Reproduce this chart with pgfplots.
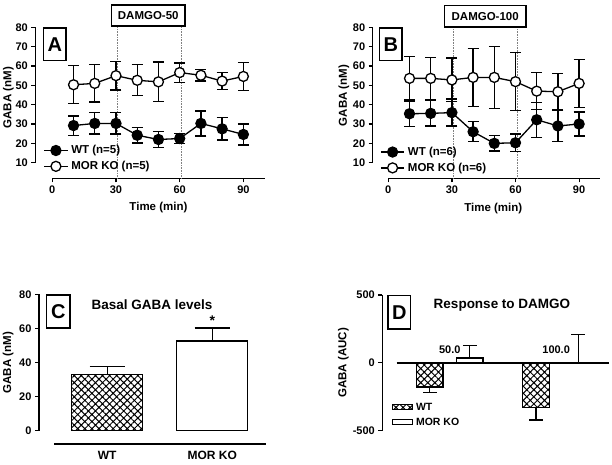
\documentclass[border=0pt]{standalone}
\usepackage{fontspec}
\setmainfont{Liberation Sans}
\usepackage{pgfplots}
\pgfplotsset{compat=1.18}
\usepackage{pgfplotstable}
\usetikzlibrary{patterns.meta}

\pgfplotstableread{
t y e
10 29.2 5.0
20 30.3 5.5
30 30.3 5.5
40 24.2 4.0
50 22.0 4.3
60 22.5 2.6
70 30.3 6.5
80 27.5 5.8
90 24.6 5.4
}\tabAwt
\pgfplotstableread{
t y e
10 50.3 9.8
20 51.0 9.6
30 55.0 7.4
40 52.6 8.0
50 51.8 10.2
60 56.6 5.0
70 55.2 3.0
80 52.2 4.5
90 54.6 7.3
}\tabAko
\pgfplotstableread{
t y e
10 35.3 6.5
20 35.5 6.5
30 35.9 7.0
40 26.0 5.2
50 20.0 3.9
60 20.3 4.5
70 32.2 9.0
80 29.0 8.0
90 30.0 6.2
}\tabBwt
\pgfplotstableread{
t y e
10 53.6 11.2
20 53.6 10.8
30 52.8 11.3
40 54.1 15.0
50 54.1 16.0
60 51.9 15.0
70 47.0 9.5
80 46.7 9.5
90 51.0 12.3
}\tabBko
\pgfplotstableread{
x y e
0 33.0 4.5
}\tabCwt
\pgfplotstableread{
x y e
1 52.7 7.5
}\tabCko
\pgfplotstableread{
x y e
-0.186 -178 40
0.802 -328 93
}\tabDwt
\pgfplotstableread{
x y e
0.186 35 92
1.196 4 207
}\tabDko

\newcommand\fsz[1]{\fontsize{#1}{#1}\selectfont\bfseries}

\tikzset{
  boxlab/.style={draw, line width=1.4pt, anchor=north west, minimum width=22.4pt,
    minimum height=32.7pt, inner sep=0pt, font=\fsz{20}},
  hatchbar/.style={pattern={Hatch[angle=45,distance=5pt,line width=1pt]}},
}

\pgfplotsset{
  prism/.style={
    scale only axis,
    enlargelimits=false,
    clip=false,
    axis line style={-, line width=1.4pt},
    x axis line style={-},
    y axis line style={-},
    tick style={line width=1.2pt, black},
    major tick length=4pt,
    tick align=outside,
    /pgf/number format/assume math mode=true,
    ticklabel style={font=\fsz{11}},
    label style={font=\fsz{11.5}},
  },
  ts/.style={black, line width=1.3pt, mark=*, mark size=5pt,
    mark options={solid, line width=1.3pt, fill=#1},
    /pgfplots/error bars/y dir=both, /pgfplots/error bars/y explicit,
    /pgfplots/error bars/error bar style={line width=1.3pt},
    /pgfplots/error bars/error mark options={rotate=90, line width=1.3pt, mark size=5.5pt}},
  ts/.default=black,
  tslegend/.style={
    legend style={at={#1}, anchor=north west, draw=none, fill=none,
      inner sep=0pt, row sep=0pt, font=\fsz{11.5}, nodes={inner sep=3pt}},
    legend cell align=left,
    legend image code/.code={\draw[mark repeat=2,mark phase=2,##1] plot coordinates {(0pt,0pt) (11.7pt,0pt) (23.4pt,0pt)};},
  },
  dlegend/.style={
    legend image code/.code={\draw[##1, line width=1.2pt] (0pt,-2.5pt) rectangle (20pt,2.5pt);},
  },
  barerr/.style={
    /pgfplots/error bars/y dir=#1, /pgfplots/error bars/y explicit,
    /pgfplots/error bars/error bar style={line width=1.3pt},
  },
}

\begin{document}
\begin{tikzpicture}
\fill[white] (0,0) rectangle (612pt,464pt);
\path[use as bounding box] (0,0) rectangle (612pt,464pt);

% ---------------- Panel A ----------------
\begin{axis}[prism,
  at={(52.3pt,301.3pt)}, anchor=south west,
  width=212.3pt, height=135.4pt,
  xmin=0, xmax=100, ymin=10, ymax=80,
  axis x line*=bottom, axis y line*=left,
  axis x line shift=15.6pt, axis y line shift=17pt,
  xtick={0,30,60,90}, ytick={10,20,30,40,50,60,70,80},
  xlabel={Time (min)}, ylabel={GABA (nM)},
  xlabel style={at={(axis description cs:0.5,-0.332)}, anchor=center},
  ylabel style={at={(axis description cs:-0.207,0.48)}, anchor=center},
  tslegend={(axis cs:-4.2,20.5)},
]
\draw[densely dotted, gray, line width=0.6pt] (axis cs:30.6,1.93) -- (axis cs:30.6,80.7);
\draw[densely dotted, gray, line width=0.6pt] (axis cs:60.6,1.93) -- (axis cs:60.6,80.7);
\addplot[ts] table[x=t, y=y, y error=e] {\tabAwt};
\addlegendentry{WT (n=5)}
\addplot[ts=white] table[x=t, y=y, y error=e] {\tabAko};
\addlegendentry{MOR KO (n=5)}
\node[boxlab] at (axis cs:-4.4,80) {A};
\node[draw, line width=1.4pt, fill=white, minimum width=73.3pt, minimum height=21pt, inner sep=0pt, font=\fsz{11.5}] at (axis cs:45.2,86.1) {DAMGO-50};
\end{axis}

% ---------------- Panel B ----------------
\begin{axis}[prism,
  at={(388.3pt,301.3pt)}, anchor=south west,
  width=212pt, height=135.4pt,
  xmin=0, xmax=100, ymin=10, ymax=80,
  axis x line*=bottom, axis y line*=left,
  axis x line shift=15.6pt, axis y line shift=15.6pt,
  xtick={0,30,60,90}, ytick={10,20,30,40,50,60,70,80},
  xlabel={Time (min)}, ylabel={GABA (nM)},
  xlabel style={at={(axis description cs:0.495,-0.337)}, anchor=center},
  ylabel style={at={(axis description cs:-0.209,0.496)}, anchor=center},
  tslegend={(axis cs:-3.9,19.7)},
]
\draw[densely dotted, gray, line width=0.6pt] (axis cs:30.7,1.93) -- (axis cs:30.7,80.7);
\draw[densely dotted, gray, line width=0.6pt] (axis cs:61.0,1.93) -- (axis cs:61.0,80.7);
\addplot[ts] table[x=t, y=y, y error=e] {\tabBwt};
\addlegendentry{WT (n=6)}
\addplot[ts=white] table[x=t, y=y, y error=e] {\tabBko};
\addlegendentry{MOR KO (n=6)}
\node[boxlab] at (axis cs:-4.4,80) {B};
\node[draw, line width=1.4pt, fill=white, minimum width=81.7pt, minimum height=21.7pt, inner sep=0pt, font=\fsz{11.5}] at (axis cs:45.7,85.8) {DAMGO-100};
\end{axis}

% ---------------- Panel C ----------------
\begin{axis}[prism,
  at={(54pt,33.3pt)}, anchor=south west,
  width=212pt, height=136.4pt,
  xmin=-0.507, xmax=1.512, ymin=0, ymax=80,
  axis x line*=bottom, axis y line*=left,
  x axis line style={draw=none},
  axis x line shift=13.3pt, axis y line shift=15pt,
  xtick={0,1}, xticklabels={WT,MOR KO}, major x tick style={draw=none},
  xticklabel style={font=\fsz{12}},
  ytick={0,20,40,60,80},
  ylabel={GABA (nM)},
  ylabel style={at={(axis description cs:-0.216,0.498)}, anchor=center},
]
\draw[line width=1.4pt] (axis cs:-0.507,-7.8) -- (axis cs:1.512,-7.8);
\addplot[ybar, bar shift=0pt, bar width=71pt, draw=black, line width=1.3pt, hatchbar,
  barerr=plus, error bars/error mark options={rotate=90, line width=1.3pt, mark size=17.5pt}]
  table[x=x, y=y, y error=e] {\tabCwt};
\addplot[ybar, bar shift=0pt, bar width=71pt, draw=black, fill=white, line width=1.3pt,
  barerr=plus, error bars/error mark options={rotate=90, line width=1.3pt, mark size=17.5pt}]
  table[x=x, y=y, y error=e] {\tabCko};
\node[boxlab, minimum width=23.3pt, minimum height=33pt] at (axis cs:-0.583,80) {C};
\node[font=\fsz{13.5}] at (axis cs:0.427,73.7) {Basal GABA levels};
\node[font=\fsz{14}, anchor=base] at (axis cs:1,61.5) {*};
\end{axis}

% ---------------- Panel D ----------------
\begin{axis}[prism,
  at={(396.7pt,33.3pt)}, anchor=south west,
  width=212.3pt, height=135.7pt,
  xmin=-0.494, xmax=1.482, ymin=-500, ymax=500,
  axis x line=none, axis y line*=left,
  axis y line shift=14.4pt,
  xtick=\empty,
  ytick={-500,0,500}, yticklabels={-500,0,500},
  ylabel={GABA (AUC)},
  ylabel style={at={(axis description cs:-0.251,0.5)}, anchor=center},
  legend style={at={(axis cs:-0.541,-272)}, anchor=north west, draw=none, fill=none,
      inner sep=0pt, row sep=0pt, font=\fsz{10.5}, nodes={inner sep=3pt}},
  legend cell align=left,
]
\draw[line width=1.4pt] (axis cs:-0.494,0) -- (axis cs:1.482,0);
\addplot[ybar, bar shift=0pt, bar width=26.7pt, draw=black, line width=1.3pt, hatchbar, dlegend,
  barerr=minus, error bars/error mark options={rotate=90, line width=1.3pt, mark size=7pt}]
  table[x=x, y=y, y error=e] {\tabDwt};
\addlegendentry{WT}
\addplot[ybar, bar shift=0pt, bar width=26.7pt, draw=black, fill=white, line width=1.3pt, dlegend,
  barerr=plus, error bars/error mark options={rotate=90, line width=1.3pt, mark size=7pt}]
  table[x=x, y=y, y error=e] {\tabDko};
\addlegendentry{MOR KO}
\node[boxlab, minimum width=22.7pt, minimum height=33.3pt] at (axis cs:-0.582,500) {D};
\node[font=\fsz{13.5}] at (axis cs:0.486,425) {Response to DAMGO};
\node[font=\fsz{11}] at (axis cs:0,99) {50.0};
\node[font=\fsz{11}] at (axis cs:0.99,99) {100.0};
\end{axis}
\end{tikzpicture}
\end{document}
